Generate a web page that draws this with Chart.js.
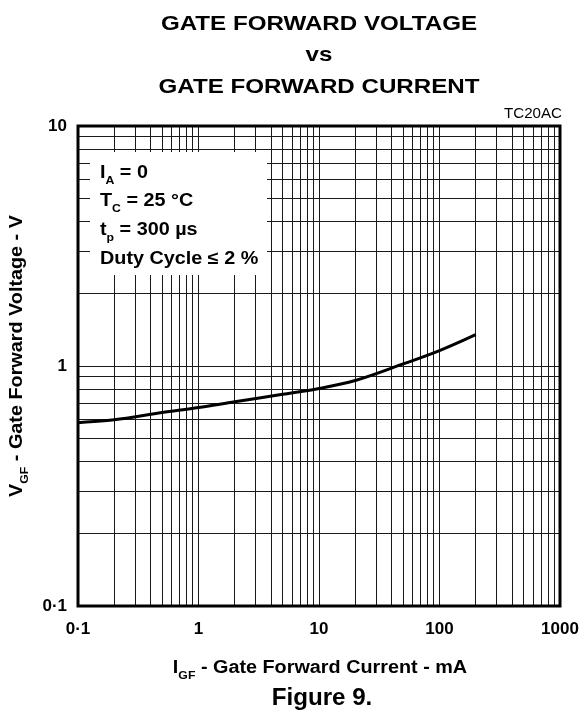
<!DOCTYPE html>
<html lang="en">
<head>
<meta charset="UTF-8">
<title>Gate Forward Voltage vs Gate Forward Current</title>
<script src="https://cdn.jsdelivr.net/npm/chart.js@4"></script>
<style>
  html, body { margin: 0; padding: 0; background: #fff; }
  canvas { display: block; }
</style>
</head>
<body>
<canvas id="gfChart" width="581" height="713"></canvas>
<script>
// I_GF (mA) against V_GF (V)
var currentMA = [0.1, 0.2, 0.5, 1, 2, 5, 10, 20, 50, 100, 200];
var voltageV  = [0.58, 0.597, 0.64, 0.671, 0.71, 0.762, 0.806, 0.87, 1.02, 1.16, 1.35];

// axes
var xDecades = [0.1, 1, 10, 100, 1000];
var xTickLabels = ['0·1', '1', '10', '100', '1000'];
var yDecades = [0.1, 1, 10];
var yTickLabels = ['0·1', '1', '10'];
var gridSteps = [1, 2, 3, 4, 5, 6, 7, 8, 9];

var titleLines = ['GATE FORWARD VOLTAGE', 'vs', 'GATE FORWARD CURRENT'];
// [text, isSubscript]
var conditions = [
  [['I', 0], ['A', 1], [' = 0', 0]],
  [['T', 0], ['C', 1], [' = 25 °C', 0]],
  [['t', 0], ['p', 1], [' = 300 µs', 0]],
  [['Duty Cycle ≤ 2 %', 0]]
];
var xTitle = [['I', 0], ['GF', 1], [' - Gate Forward Current - mA', 0]];
var yTitle = [['V', 0], ['GF', 1], [' - Gate Forward Voltage - V', 0]];

var FONT = '"Liberation Sans", Arial, Helvetica, sans-serif';

function gridValues(decades) {
  var out = [];
  decades.forEach(function (d, i) {
    if (i === decades.length - 1) { out.push(d); return; }
    gridSteps.forEach(function (s) { out.push(+(d * s).toPrecision(6)); });
  });
  return out;
}

function decadeLabel(decades, labels) {
  return function (value) {
    for (var i = 0; i < decades.length; i++) {
      if (Math.abs(decades[i] - value) < decades[i] * 1e-6) return labels[i];
    }
    return '';
  };
}

// draws text with subscripts, y is the middle of the capitals
function drawRich(ctx, parts, x, y, size, align, stretch, bold) {
  var weight = bold === false ? '' : 'bold ';
  var subSize = size * 0.62;
  ctx.save();
  ctx.translate(x, y);
  ctx.scale(stretch, 1);
  ctx.fillStyle = '#000';
  ctx.textBaseline = 'alphabetic';
  ctx.textAlign = 'left';
  var width = 0;
  parts.forEach(function (p) {
    ctx.font = weight + (p[1] ? subSize : size) + 'px ' + FONT;
    width += ctx.measureText(p[0]).width;
  });
  var cx = align === 'center' ? -width / 2 : (align === 'right' ? -width : 0);
  var base = size * 0.36;
  parts.forEach(function (p) {
    ctx.font = weight + (p[1] ? subSize : size) + 'px ' + FONT;
    ctx.fillText(p[0], cx, p[1] ? base + size * 0.3 : base);
    cx += ctx.measureText(p[0]).width;
  });
  ctx.restore();
}

var textPlugin = {
  id: 'figureText',
  beforeDatasetsDraw: function (chart) {
    // white panel behind the test conditions
    var a = chart.chartArea, ctx = chart.ctx;
    ctx.save();
    ctx.fillStyle = '#fff';
    ctx.fillRect(a.left + 12, a.top + 26, 177, 123);
    ctx.restore();
  },
  afterDraw: function (chart) {
    var a = chart.chartArea, ctx = chart.ctx;
    ctx.save();
    ctx.strokeStyle = '#000';
    ctx.lineWidth = 3;
    ctx.strokeRect(a.left, a.top, a.right - a.left, a.bottom - a.top);
    ctx.restore();

    var cx = (a.left + a.right) / 2;
    [22, 53.5, 85].forEach(function (y, i) {
      drawRich(ctx, [[titleLines[i], 0]], cx, y, 21, 'center', 1.15);
    });
    drawRich(ctx, [['TC20AC', 0]], a.right + 2, 113, 14, 'right', 1.08, false);

    [171.7, 200, 229, 257.3].forEach(function (y, i) {
      drawRich(ctx, conditions[i], a.left + 22, y, 18, 'left', 1.1);
    });

    drawRich(ctx, xTitle, cx + 1, 667, 18, 'center', 1.1);
    drawRich(ctx, [['Figure 9.', 0]], cx + 3, 697, 23, 'center', 1.05);

    ctx.save();
    ctx.translate(16, 356);
    ctx.rotate(-Math.PI / 2);
    drawRich(ctx, yTitle, 0, 0, 18, 'center', 1.1);
    ctx.restore();
  }
};

var tickFont = { family: FONT, size: 17, weight: 'bold' };
var gridStyle = { color: '#1a1a1a', lineWidth: 1, drawTicks: false };

var ctx = document.getElementById('gfChart').getContext('2d');
var gfChart = new Chart(ctx, {
  type: 'line',
  data: {
    datasets: [{
      data: currentMA.map(function (x, i) { return { x: x, y: voltageV[i] }; }),
      borderColor: '#000',
      borderWidth: 3,
      pointRadius: 0,
      fill: false,
      cubicInterpolationMode: 'monotone'
    }]
  },
  options: {
    responsive: false,
    animation: false,
    layout: { padding: { top: 126, right: 21, left: 0, bottom: 0 } },
    plugins: { legend: { display: false }, tooltip: { enabled: false } },
    scales: {
      x: {
        type: 'logarithmic',
        min: 0.1,
        max: 1000,
        afterBuildTicks: function (s) { s.ticks = gridValues(xDecades).map(function (v) { return { value: v }; }); },
        afterFit: function (s) { s.height = 107; s.paddingLeft = 0; s.paddingRight = 0; },
        ticks: {
          callback: decadeLabel(xDecades, xTickLabels),
          autoSkip: false, maxRotation: 0, minRotation: 0,
          color: '#000', font: tickFont, padding: 13
        },
        grid: gridStyle,
        border: { display: false }
      },
      y: {
        type: 'logarithmic',
        min: 0.1,
        max: 10,
        afterBuildTicks: function (s) { s.ticks = gridValues(yDecades).map(function (v) { return { value: v }; }); },
        afterFit: function (s) { s.width = 78; s.paddingTop = 0; s.paddingBottom = 0; },
        ticks: {
          callback: decadeLabel(yDecades, yTickLabels),
          autoSkip: false,
          color: '#000', font: tickFont, padding: 11
        },
        grid: gridStyle,
        border: { display: false }
      }
    }
  },
  plugins: [textPlugin]
});
</script>
</body>
</html>
